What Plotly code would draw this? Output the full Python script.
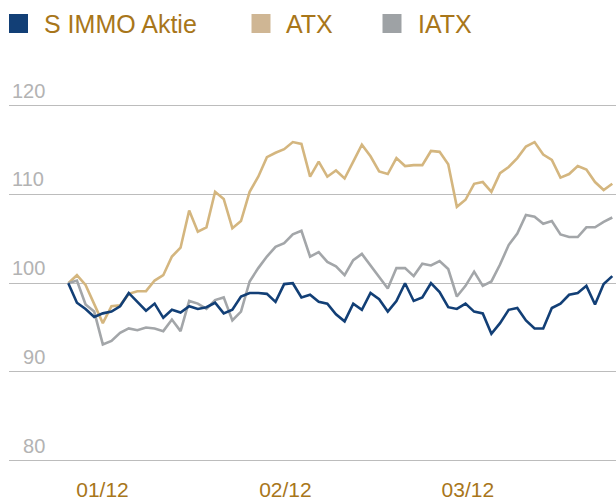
import plotly.graph_objects as go

# ---- data ----
series_names = ["S IMMO Aktie", "ATX", "IATX"]

s_immo = [100.0, 97.8, 97.1, 96.2, 96.6, 96.8, 97.4, 98.9, 97.9, 96.9,
          97.7, 96.1, 97.0, 96.7, 97.4, 97.1, 97.3, 97.8, 96.6, 97.0,
          98.5, 98.9, 98.9, 98.8, 97.9, 99.9, 100.0, 98.4, 98.7, 97.9,
          97.7, 96.5, 95.7, 97.7, 97.0, 98.9, 98.2, 96.8, 98.0, 100.0,
          98.0, 98.4, 100.0, 99.0, 97.3, 97.1, 97.7, 96.8, 96.6, 94.3,
          95.5, 97.0, 97.2, 95.8, 94.9, 94.9, 97.2, 97.7, 98.7, 98.9,
          99.7, 97.6, 99.9, 100.8]

atx = [100.0, 100.9, 99.8, 97.6, 95.5, 97.4, 97.5, 98.8, 99.1, 99.1,
       100.3, 100.9, 103.0, 104.0, 108.2, 105.8, 106.3, 110.3, 109.5, 106.2,
       107.0, 110.3, 112.0, 114.2, 114.7, 115.1, 115.9, 115.7, 112.0, 113.7,
       112.0, 112.7, 111.8, 113.7, 115.6, 114.3, 112.6, 112.3, 114.1, 113.2,
       113.3, 113.3, 114.9, 114.8, 113.4, 108.6, 109.4, 111.2, 111.4, 110.3,
       112.4, 113.1, 114.1, 115.4, 115.9, 114.5, 113.9, 111.9, 112.3, 113.2,
       112.8, 111.4, 110.5, 111.2]

iatx = [100.0, 100.3, 97.6, 96.8, 93.1, 93.5, 94.4, 94.9, 94.7, 95.0,
        94.9, 94.6, 95.9, 94.6, 98.0, 97.7, 97.1, 98.1, 98.4, 95.8,
        96.8, 100.2, 101.7, 103.0, 104.1, 104.5, 105.5, 105.9, 103.0, 103.5,
        102.4, 101.9, 100.9, 102.6, 103.3, 102.0, 100.8, 99.4, 101.7, 101.7,
        100.8, 102.2, 102.0, 102.5, 101.6, 98.5, 99.7, 101.3, 99.7, 100.2,
        102.1, 104.3, 105.6, 107.7, 107.5, 106.7, 107.0, 105.5, 105.2, 105.2,
        106.3, 106.3, 106.9, 107.4]

x_tick_labels = ["01/12", "02/12", "03/12"]
y_tick_values = [80, 90, 100, 110, 120]

# ---- styling / positions ----
x_index = list(range(len(s_immo)))
x_tick_positions = [3.96, 25.15, 46.27]

colors = {"S IMMO Aktie": "#123f76", "ATX": "#d4b67f", "IATX": "#a3a6a9"}
legend_colors = {"S IMMO Aktie": "#123f76", "ATX": "#cfb694", "IATX": "#9ea2a5"}
gold = "#a8761a"
grid_gray = "#bcbcbc"
label_gray = "#b3b3b3"
FONT = "Liberation Sans, Arial, sans-serif"

fig = go.Figure()
for name, vals in [("ATX", atx), ("IATX", iatx), ("S IMMO Aktie", s_immo)]:
    fig.add_trace(go.Scatter(
        x=x_index, y=vals, mode="lines", name=name,
        line=dict(color=colors[name], width=2.6),
        showlegend=False, hoverinfo="skip"))

# legend drawn as squares + text (paper coordinates converted from pixels)
W, H = 616, 501
PL, PR, PT, PB = 9, 616, 60, 463  # plot area in pixels


def px_x(p):
    return (p - PL) / (PR - PL)


def px_y(p):
    return (PB - p) / (PB - PT)


legend_items = [("S IMMO Aktie", 9, 42), ("ATX", 251.5, 283.5), ("IATX", 382.5, 416)]
shapes = []
annotations = []
for name, sx, tx in legend_items:
    shapes.append(dict(type="rect", xref="paper", yref="paper",
                       x0=px_x(sx), x1=px_x(sx + 19),
                       y0=px_y(33), y1=px_y(14),
                       fillcolor=legend_colors[name], line=dict(width=0)))
    annotations.append(dict(text=name, xref="paper", yref="paper",
                            x=px_x(tx), y=px_y(23.8),
                            xanchor="left", yanchor="middle", showarrow=False,
                            font=dict(family=FONT, size=25, color=gold)))

fig.update_layout(
    width=W, height=H,
    margin=dict(l=PL, r=W - PR, t=PT, b=H - PB, autoexpand=False),
    paper_bgcolor="white", plot_bgcolor="white",
    showlegend=False,
    shapes=shapes, annotations=annotations,
    xaxis=dict(range=[-6.867, 63.43], showgrid=False, zeroline=False,
               showline=False, ticks="", tickvals=x_tick_positions,
               ticktext=x_tick_labels, ticklabelstandoff=12, automargin=False,
               tickfont=dict(family=FONT, size=21, color=gold)),
    yaxis=dict(range=[79.741, 125.149], showgrid=True, gridcolor=grid_gray,
               gridwidth=1, zeroline=False, showline=False, ticks="",
               tickvals=y_tick_values, automargin=False,
               ticktext=[("\u2007" + str(v)) if v < 100 else str(v) for v in y_tick_values],
               ticklabelposition="inside top", ticklabelshift=-1,
               tickfont=dict(family=FONT, size=20, color=label_gray)),
)

fig.write_html("out.html", config={"displayModeBar": False},
               post_script="document.body.style.margin='0';")
